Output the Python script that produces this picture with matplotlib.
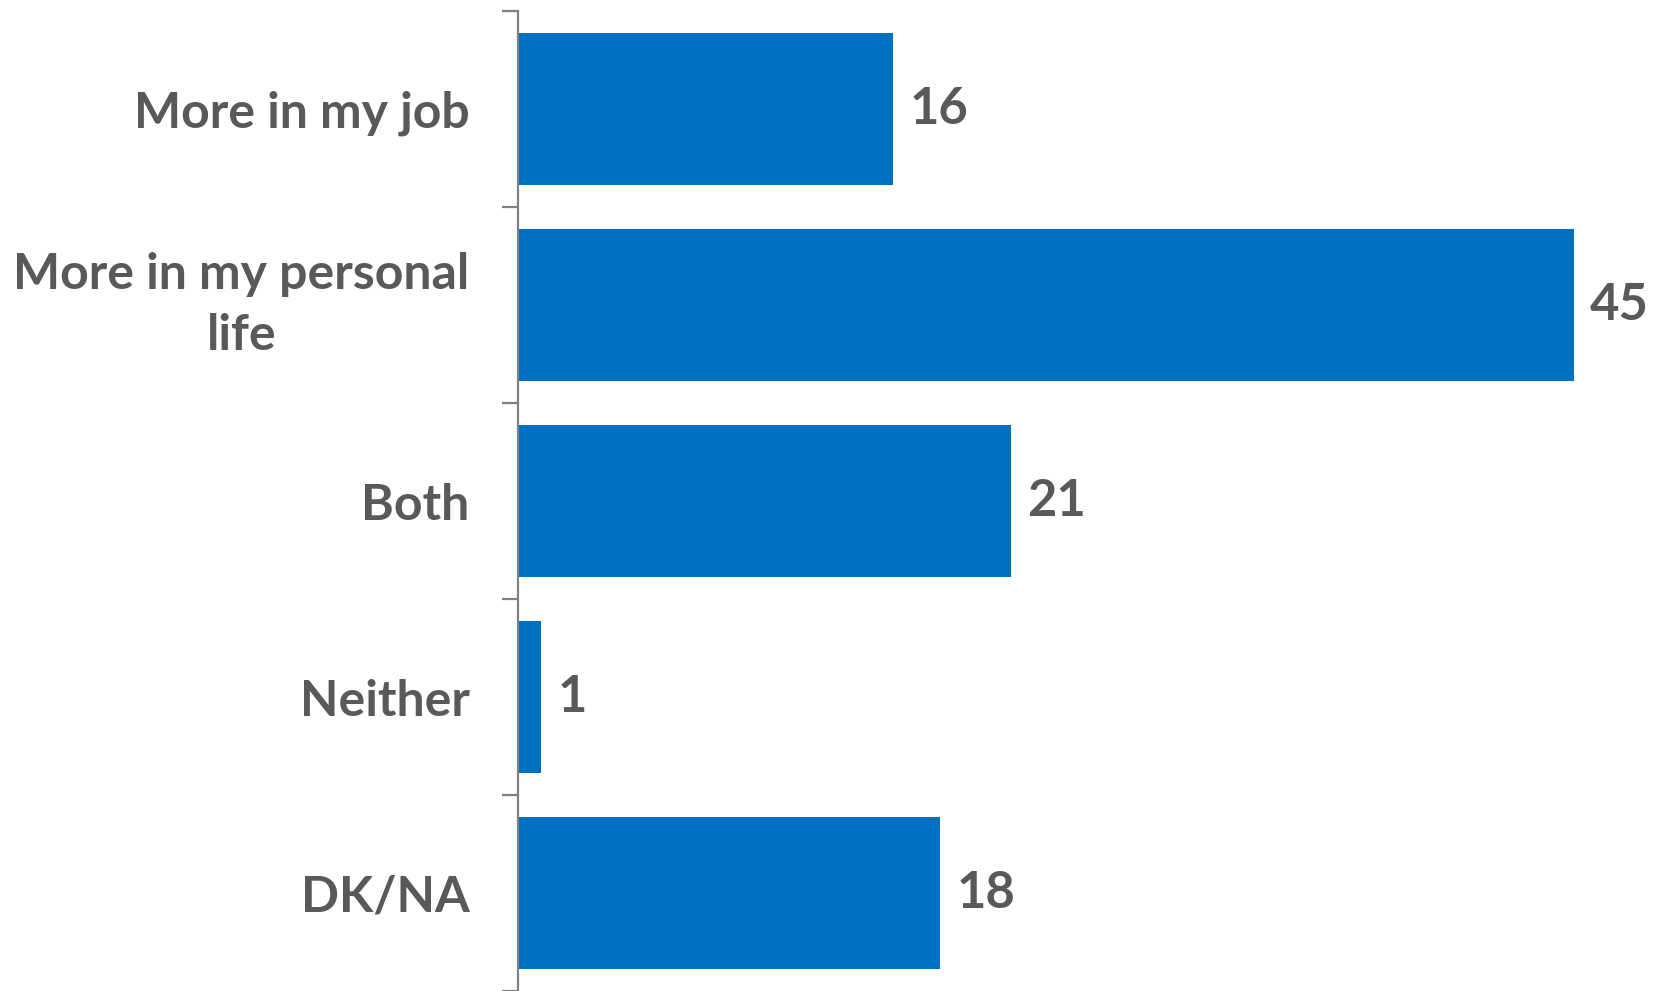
import numpy as np
import matplotlib
matplotlib.use("Agg")
import matplotlib.pyplot as plt

# data
categories = ["More in my job", "More in my personal\nlife", "Both", "Neither", "DK/NA"]
values = [16, 45, 21, 1, 18]

BAR_COLOR = "#0070C0"
TEXT_COLOR = "#595959"
AXIS_COLOR = "#808080"

plt.rcParams["font.family"] = ["Lato", "DejaVu Sans"]
plt.rcParams["font.weight"] = "bold"

fig = plt.figure(figsize=(16.58, 9.91), dpi=100)
ax = fig.add_axes([518 / 1658, 0.0, (1574 - 518) / 1658, 1 - 11 / 991])

y = np.arange(len(categories))
ax.barh(y, values, height=0.775, color=BAR_COLOR)

ax.set_xlim(0, 45)
ax.set_ylim(len(categories) - 0.5, -0.5)

# value labels
for yi, v in zip(y, values):
    ax.annotate(str(v), xy=(v, yi), xytext=(11.5, 0), textcoords="offset points",
                ha="left", va="center", fontsize=36.5, fontweight="bold",
                color=TEXT_COLOR, annotation_clip=False)

# spines / ticks
for s in ["top", "right", "bottom"]:
    ax.spines[s].set_visible(False)
ax.spines["left"].set_color(AXIS_COLOR)
ax.spines["left"].set_linewidth(1.6)
ax.set_xticks([])

ax.set_yticks(np.arange(-0.5, len(categories) + 0.5, 1.0))
ax.set_yticklabels([])
ax.tick_params(axis="y", which="major", length=11.5, width=1.6, color=AXIS_COLOR)

ax.set_yticks(y, minor=True)
ax.set_yticklabels(categories, minor=True, fontsize=36, fontweight="bold",
                   color=TEXT_COLOR, multialignment="center", linespacing=1.45)
ax.tick_params(axis="y", which="minor", length=0, pad=35)
for lbl in ax.get_yticklabels(minor=True):
    if "\n" in lbl.get_text():
        lbl.set_va("center")

fig.savefig("out.png", dpi=100)
